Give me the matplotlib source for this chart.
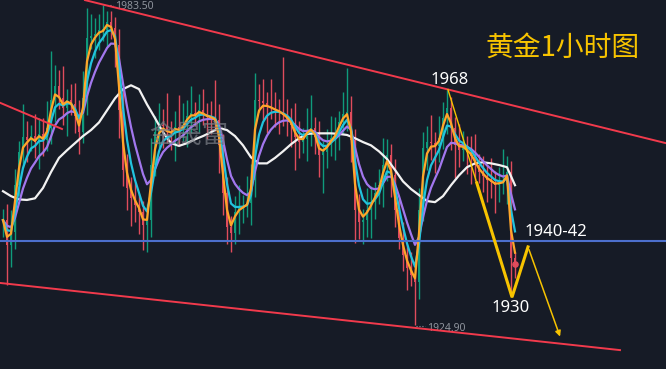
import numpy as np
import pandas as pd
import matplotlib
matplotlib.use("Agg")
import matplotlib.pyplot as plt

# hourly gold candles (close price)
closes = [1944.1, 1939.5, 1941.9, 1950.5, 1956.6, 1959.3, 1958.8, 1959.5, 1958.4, 1959.9,
          1958.8, 1961.0, 1966.1, 1968.6, 1966.4, 1964.6, 1966.1, 1965.3, 1963.1, 1960.2,
          1966.4, 1977.4, 1977.8, 1978.2, 1978.9, 1978.9, 1980.4, 1979.3, 1976.2, 1964.2,
          1953.3, 1950.0, 1948.1, 1946.8, 1945.6, 1943.2, 1944.1, 1954.2, 1960.2, 1961.5,
          1961.3, 1960.2, 1960.0, 1961.1, 1960.6, 1961.5, 1963.1, 1963.7, 1963.3, 1964.2,
          1963.5, 1963.0, 1962.8, 1962.4, 1957.8, 1949.0, 1942.8, 1941.7, 1945.6, 1946.5,
          1946.7, 1947.2, 1951.4, 1966.1, 1965.9, 1965.5, 1965.0, 1964.6, 1964.2, 1963.9,
          1963.3, 1962.6, 1961.5, 1959.3, 1958.4, 1958.9, 1960.6, 1961.0, 1959.3, 1956.0,
          1956.6, 1957.8, 1959.1, 1960.0, 1962.0, 1963.5, 1963.9, 1958.8, 1945.9, 1943.7,
          1944.1, 1945.9, 1947.4, 1949.0, 1950.5, 1954.2, 1956.0, 1952.3, 1945.9, 1940.8,
          1937.7, 1935.3, 1934.0, 1932.7, 1945.9, 1957.3, 1958.4, 1958.2, 1957.7, 1959.1,
          1962.8, 1964.6, 1961.0, 1957.8, 1956.9, 1957.5, 1956.6, 1955.8, 1954.2, 1952.9,
          1952.2, 1951.4, 1951.1, 1950.5, 1950.9, 1951.1, 1952.9, 1937.2, 1936.1]
upper_wick = [2, 3, 4, 3, 2, 6, 3, 2, 4, 3,
              3, 5, 9, 4, 3, 6, 2, 3, 4, 3,
              5, 5.5, 4, 3, 3, 4.6, 2, 2, 2, 3,
              4, 3, 2, 3, 2, 2, 3, 5, 3, 4,
              3, 6, 2, 3, 6, 4, 3, 5, 2, 3,
              4, 2, 3, 7, 3, 2, 3, 2, 3, 4,
              2, 5, 3, 5, 3, 4, 2, 5, 3, 2,
              10, 3, 2, 4, 3, 2, 4, 6, 2, 3,
              2, 3, 4, 3, 2, 4, 8, 3, 2, 3,
              2, 4, 3, 2, 3, 5, 3, 2, 3, 2,
              3, 2, 3, 2, 4, 3, 3, 5, 2, 4,
              3, 3.4, 2, 2, 4, 3, 2, 3, 4, 2,
              3, 2, 4, 2, 3, 6, 3, 2, 1]
lower_wick = [3, 7.3, 4, 3, 2, 3, 4, 2, 3, 5,
              3, 2, 3, 4, 2, 3, 5, 2, 3, 4,
              2, 3, 2, 4, 3, 2, 3, 2, 4, 5,
              3, 4, 5, 3, 4, 4.5, 5, 3, 2, 3,
              4, 2, 3, 5, 3, 2, 4, 3, 2, 3,
              2, 4, 3, 2, 5, 4, 3, 3.5, 2, 4,
              3, 2, 4, 3, 2, 3, 5, 2, 3, 4,
              2, 3, 4, 6, 3, 2, 4, 3, 3, 4,
              7, 3, 2, 4, 3, 2, 3, 4, 6, 3,
              4, 3, 5, 3, 2, 4, 3, 4, 3, 2,
              3, 4, 2, 7.8, 3, 2, 4, 3, 5, 3,
              2, 3, 4, 6, 3, 2, 4, 5, 3, 2,
              3, 4, 3, 5, 3, 2, 4, 7, 2.6]

# slow white average, read every 2 bars
white_ma = [1949.4, 1948.5, 1947.9, 1947.8, 1948.1, 1950.0, 1952.9, 1955.5, 1956.9, 1958.2,
            1959.5, 1960.6, 1962.0, 1964.2, 1966.4, 1968.1, 1968.8, 1968.1, 1965.3, 1962.8,
            1960.2, 1958.2, 1957.7, 1958.2, 1958.9, 1959.5, 1960.2, 1961.0, 1960.6, 1959.5,
            1957.8, 1955.6, 1954.5, 1954.5, 1955.5, 1956.7, 1958.0, 1959.1, 1959.9, 1960.0,
            1960.0, 1960.0, 1959.9, 1959.7, 1959.1, 1958.4, 1957.8, 1956.7, 1955.3, 1953.3,
            1951.2, 1949.8, 1948.7, 1947.6, 1947.4, 1948.5, 1950.5, 1952.3, 1953.8, 1954.5,
            1954.7, 1954.5, 1954.2, 1953.8, 1950.5]

# drawn lines (bar index, price)
channel_top = [(20.5, 1984.4), (165.75, 1958.2)]
channel_bottom = [(-0.75, 1932.6), (154.25, 1920.3)]
left_line = [(-0.75, 1965.6), (14.75, 1960.8)]
support = 1940.3
path_bar = [111.25, 127.25, 131.25, 139.5]
path_price = [1968.0, 1930.0, 1939.2, 1922.3]

bg = "#161b26"
up_col = "#0f9b7c"
down_col = "#e04c5c"
yellow = "#f7c300"

c = np.array(closes)
o = np.concatenate([[c[0]], c[:-1]])
hi = np.maximum(o, c) + np.array(upper_wick)
lo = np.minimum(o, c) - np.array(lower_wick)
idx = np.arange(len(c))
col = np.where(c >= o, up_col, down_col)

s = pd.Series(c)
ma_fast = s.ewm(span=2, adjust=False).mean()
ma_mid = s.ewm(span=4, adjust=False).mean()
ma_slow = s.ewm(span=8, adjust=False).mean()

fig = plt.figure(figsize=(6.66, 3.69), dpi=100, facecolor=bg)
ax = fig.add_axes([0, 0, 1, 1], facecolor=bg)
ax.set_xlim(-0.75, 165.75)
ax.set_ylim(1916.84, 1984.42)
ax.axis("off")

ax.vlines(idx, lo, hi, colors=col, lw=1.0, zorder=2)
body = np.maximum(np.abs(c - o), 0.25)
ax.bar(idx, body, bottom=np.minimum(o, c), width=0.72, color=col, zorder=2)

ax.plot(idx[::2], white_ma, color="#f2f2f2", lw=1.6, zorder=3)
ax.plot(idx, ma_slow, color="#a277ee", lw=1.6, zorder=3)
ax.plot(idx, ma_mid, color="#22c3dd", lw=1.6, zorder=3)
ax.plot(idx, ma_fast, color="#ffa629", lw=1.6, zorder=3)
ax.scatter([idx[-1]], [c[-1]], s=14, color=down_col, zorder=4)

red = "#f23a4c"
for ln in (channel_top, channel_bottom, left_line):
    ax.plot([ln[0][0], ln[1][0]], [ln[0][1], ln[1][1]], color=red, lw=1.4, zorder=4)
ax.axhline(support, color="#4c6fcc", lw=1.5, zorder=4)

# yellow forecast path
ax.plot(path_bar[:2], path_price[:2], color=yellow, lw=1.0, zorder=5)
t = 0.45
mx = path_bar[0] + t * (path_bar[1] - path_bar[0])
my = path_price[0] + t * (path_price[1] - path_price[0])
ax.plot([mx, path_bar[1], path_bar[2]], [my, path_price[1], path_price[2]],
        color=yellow, lw=2.2, zorder=5, solid_joinstyle="miter")
ax.annotate("", xy=(path_bar[3], path_price[3]), xytext=(path_bar[2], path_price[2]),
            arrowprops=dict(arrowstyle="-|>", color=yellow, lw=1.1, mutation_scale=8),
            zorder=5)

fam = ["Noto Sans", "DejaVu Sans"]
ax.text(111.75, 1969.8, "1968", color="white", fontsize=12, family=fam,
        ha="center", va="center", zorder=6)
ax.text(127, 1928.0, "1930", color="white", fontsize=12, family=fam,
        ha="center", va="center", zorder=6)
ax.text(130.5, 1942.0, "1940-42", color="white", fontsize=12, family=fam,
        ha="left", va="center", zorder=6)

grey = "#8e939c"
ax.plot([25.3, 27.6], [1983.5, 1983.5], ls=":", color=grey, lw=0.8)
ax.text(28, 1983.3, "1983.50", color=grey, fontsize=7.5, family=fam, ha="left", va="center")
ax.plot([103.2, 105.6], [1924.7, 1924.7], ls=":", color=grey, lw=0.8)
ax.text(106, 1924.3, "1924.90", color=grey, fontsize=7.5, family=fam, ha="left", va="center")

cjk = ["Noto Sans CJK SC", "DejaVu Sans"]
ax.text(0.845, 0.870, "黄金1小时图", transform=ax.transAxes, color=yellow,
        fontsize=20, family=cjk, ha="center", va="center", zorder=6)
ax.text(0.284, 0.634, "金晟富", transform=ax.transAxes, color="#7a7e86", alpha=0.7,
        fontsize=19, family=cjk, ha="center", va="center", zorder=6)

fig.savefig("out.png", dpi=100, facecolor=bg)
